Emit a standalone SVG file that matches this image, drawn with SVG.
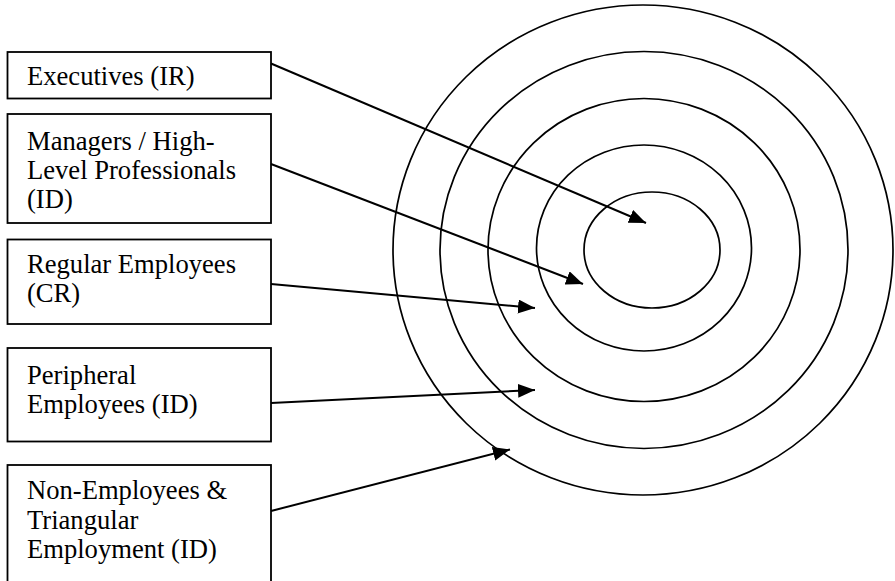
<svg xmlns="http://www.w3.org/2000/svg" width="895" height="581" viewBox="0 0 895 581">
<style>
.box{fill:#fff;stroke:#000;stroke-width:1.8}
.ring{fill:none;stroke:#000;stroke-width:1.7}
.lbl{font-family:"Liberation Serif","Times New Roman",serif;font-size:26.6px;fill:#000}
.conn{fill:none;stroke:#000;stroke-width:2}
</style>
<defs>
<marker id="ah" markerUnits="userSpaceOnUse" markerWidth="19" markerHeight="15" refX="17" refY="7" orient="auto">
<path d="M0,0 L17,7 L0,14 z" fill="#000"/>
</marker>
</defs>
<rect width="895" height="581" fill="#fff"/>
<g id="rings">
<ellipse class="ring" cx="643" cy="250" rx="250" ry="245"/>
<ellipse class="ring" cx="644" cy="250" rx="204" ry="198.5"/>
<ellipse class="ring" cx="644" cy="250" rx="156" ry="151.5"/>
<ellipse class="ring" cx="644" cy="248" rx="107.5" ry="103"/>
<ellipse class="ring" cx="652" cy="250" rx="68" ry="58"/>
</g>
<g id="node-executives">
<rect class="box" x="7.5" y="52" width="263.5" height="46.5"/>
<text class="lbl" x="27" y="85">Executives (IR)</text>
</g>
<g id="node-managers">
<rect class="box" x="7.5" y="114" width="263.5" height="109"/>
<text class="lbl" x="27" y="149.5">Managers / High-</text>
<text class="lbl" x="27" y="178.5">Level Professionals</text>
<text class="lbl" x="27" y="207.5">(ID)</text>
</g>
<g id="node-regular">
<rect class="box" x="7.5" y="239.5" width="263.5" height="84.5"/>
<text class="lbl" x="27" y="272.5">Regular Employees</text>
<text class="lbl" x="27" y="301.5">(CR)</text>
</g>
<g id="node-peripheral">
<rect class="box" x="7.5" y="348" width="263.5" height="93.5"/>
<text class="lbl" x="27" y="384">Peripheral</text>
<text class="lbl" x="27" y="413">Employees (ID)</text>
</g>
<g id="node-nonemployees">
<rect class="box" x="7.5" y="465" width="263.5" height="125"/>
<text class="lbl" x="27" y="499">Non-Employees &amp;</text>
<text class="lbl" x="27" y="528.5">Triangular</text>
<text class="lbl" x="27" y="558">Employment (ID)</text>
</g>
<g id="connectors">
<line class="conn" marker-end="url(#ah)" x1="271" y1="63.5" x2="646" y2="223"/>
<line class="conn" marker-end="url(#ah)" x1="271" y1="164" x2="583" y2="284"/>
<line class="conn" marker-end="url(#ah)" x1="271" y1="284" x2="535" y2="308"/>
<line class="conn" marker-end="url(#ah)" x1="271" y1="403" x2="535" y2="390"/>
<line class="conn" marker-end="url(#ah)" x1="271" y1="511" x2="510" y2="449.5"/>
</g>
</svg>
